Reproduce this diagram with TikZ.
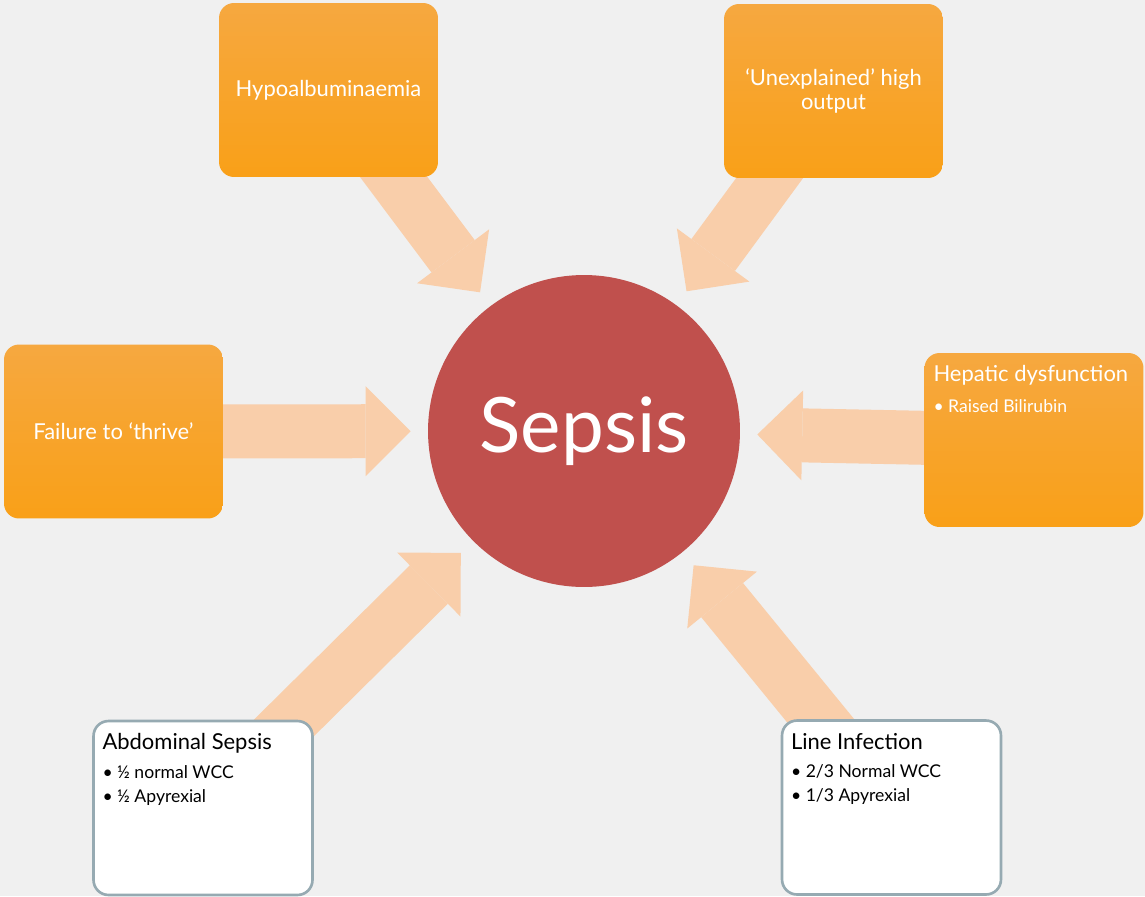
\documentclass[tikz,border=0pt]{standalone}
\usepackage{fontspec}
\setmainfont{Lato}
\usetikzlibrary{arrows.meta,backgrounds}
\definecolor{slide}{RGB}{240,240,240}
\definecolor{peach}{RGB}{249,206,170}
\definecolor{ambertop}{RGB}{246,168,64}
\definecolor{amberbot}{RGB}{249,160,24}
\definecolor{sepsisred}{RGB}{192,80,77}
\definecolor{rim}{RGB}{150,170,178}
\begin{document}
\begin{tikzpicture}[
  x = 0.02cm, y = -0.02cm,
  cause/.style = {rounded corners = 0.3cm, minimum width = 4.38cm, minimum height = 3.48cm,
                  top color = ambertop, bottom color = amberbot, text = white, align = center,
                  font = \fontsize{12.5}{13.6}\selectfont},
  note/.style = {rounded corners = 0.3cm, minimum width = 4.38cm, minimum height = 3.48cm,
                 draw = rim, line width = 1.5pt, fill = white},
  notetext/.style = {anchor = north west, inner sep = 0pt, align = left,
                     font = \fontsize{10}{13.6}\selectfont},
  feed/.style = {draw = peach, line width = 1.08cm, shorten > = 0.34cm,
                 -{Triangle[length = 0.9cm, width = 1.8cm, line width = 0pt]}}
  ]
  \useasboundingbox (0,0) rectangle (1145,896);
  \node[circle, fill = sepsisred, minimum size = 6.24cm, text = white,
        font = \fontsize{43.5}{48}\selectfont] (sepsis) at (584,431) {Sepsis};

  \node[cause] (hypo)   at (328.5,90)   {Hypoalbuminaemia};
  \node[cause, text depth = 0.08cm] (unexpl) at (833.5,91) {‘Unexplained’ high\\output};
  \node[cause] (thrive) at (113.5,431.5) {Failure to ‘thrive’};
  \node[cause] (hepatic) at (1034,440) {};
  \node[note]  (abdo)    at (203,808) {};
  \node[note]  (lineinf) at (891.5,807.5) {};

  \node[notetext, text = white] (hepatic-text) at ([xshift = 0.18cm, yshift = -0.25cm]hepatic.north west)
    {{\fontsize{12.5}{13.6}\selectfont Hepatic dysfunction}\\[4pt]
     • Raised Bilirubin};
  \node[notetext] (abdo-text) at ([xshift = 0.2cm, yshift = -0.27cm]abdo.north west)
    {{\fontsize{12.5}{13.6}\selectfont Abdominal Sepsis}\\[2.8pt]
     • ½ normal WCC\\
     • ½ Apyrexial};
  \node[notetext] (lineinf-text) at ([xshift = 0.2cm, yshift = -0.27cm]lineinf.north west)
    {{\fontsize{12.5}{13.6}\selectfont Line Infection}\\[2.8pt]
     • 2/3 Normal WCC\\
     • 1/3 Apyrexial};

  \begin{scope}[on background layer]
    \fill[slide] (0,0) rectangle (1145,896);
    \foreach \src in {hypo, unexpl, thrive, hepatic, abdo, lineinf}
      \draw[feed] (\src.center) -- (sepsis);
  \end{scope}
\end{tikzpicture}
\end{document}
